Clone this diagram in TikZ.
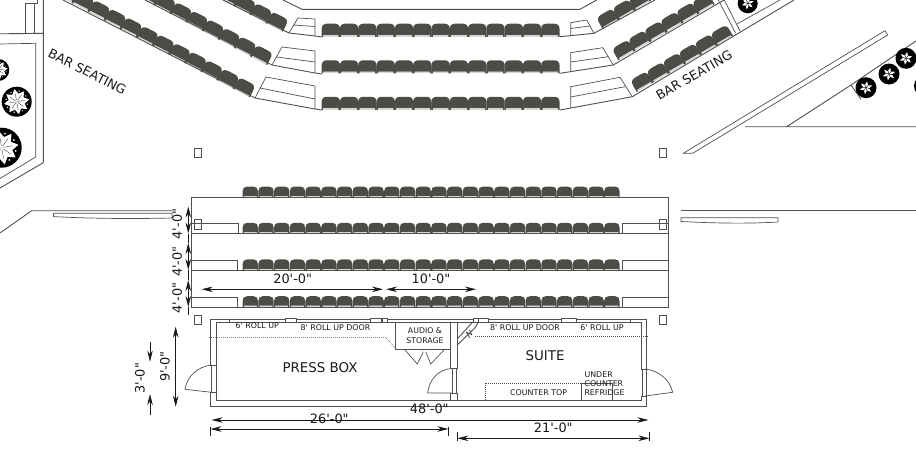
\documentclass[tikz,border=0pt]{standalone}
\usepackage{fontspec}
\setmainfont{DejaVu Sans}
\newfontfamily\plainf{DejaVu Sans}
\usetikzlibrary{arrows.meta}
\definecolor{seatc}{HTML}{4D4B46}
\definecolor{wall}{HTML}{505050}
\definecolor{inkc}{HTML}{1A1A1A}
\newcommand{\fsz}[1]{\plainf\fontsize{#1}{#1}\selectfont}
\tikzset{
  x=1pt,y=-1pt,
  plan/.style={draw=wall,line width=0.9pt,line join=miter},
  thin plan/.style={draw=wall,line width=0.7pt},
  dots/.style={draw=wall,line width=0.55pt,dash pattern=on 1pt off 1pt},
  lbl/.style={text=inkc,inner sep=0pt,font=\fsz{7.9},align=center},
  dimt/.style={text=inkc,inner sep=0pt,font=\fsz{12.9}},
  dim/.style={draw=inkc,line width=0.7pt},
  dimboth/.style={dim,{Stealth[length=11pt,width=5.5pt]}-{Stealth[length=11pt,width=5.5pt]}},
  dimend/.style={dim,-{Stealth[length=11pt,width=5.5pt]}},
  seat/.pic={
    \fill[seatc] (-7.7,5.3) -- (-7.7,-0.8) .. controls (-7.7,-3.9) and (-6.2,-5.6) .. (-3.2,-5.6)
      -- (3.2,-5.6) .. controls (6.2,-5.6) and (7.7,-3.9) .. (7.7,-0.8) -- (7.7,5.3) -- (6.4,5.3) -- (6.4,3.9) -- (-6.4,3.9) -- (-6.4,5.3) -- cycle;
    \fill[black!16] (-6.4,3.9) rectangle (6.4,5.3);
  },
  tree/.pic={
    \fill[black] (0,0) circle[radius=1pt];
    \foreach \a in {0,45,...,315}{
      \fill[white,rotate=\a+10] (0,0) -- (0.45,0.24) -- (0.85,0) -- (0.45,-0.24) -- cycle;
      \fill[white,rotate=\a+32] (0.72,0) circle[radius=0.05pt];
    }
    \foreach \a in {0,45,...,315}{
      \draw[black,line width=0.25pt,rotate=\a+10] (0.1,0) -- (0.55,0);
    }
  },
  treeb/.pic={
    \fill[black] (0,0) circle[radius=1pt];
    \foreach \a in {20,80,...,320}{
      \fill[white,rotate=\a] (0.05,0) -- (0.3,0.13) -- (0.62,0) -- (0.3,-0.13) -- cycle;
    }
  },
}
\begin{document}
\begin{tikzpicture}
\useasboundingbox (0,0) rectangle (916,450);
\clip (0,0) rectangle (916,450);
\fill[white] (0,0) rectangle (916,450);

% ---------- upper seating: centre rows
\foreach \yy in {30.4,67,103.5}{
  \foreach \k in {0,...,12}{
    \pic[scale=1.2] at ({330.8+\k*18.3},\yy) {seat};
  }
}
% left angled rows
\foreach \k in {0,...,11}{\pic[rotate=-27,scale=1.22] at ({244.3-\k*16.1},{87.3-\k*8.57}) {seat};}
\foreach \k in {0,...,7}{\pic[rotate=-27,scale=1.22] at ({261.7-\k*16.1},{55-\k*8.57}) {seat};}
\foreach \k in {0,...,3}{\pic[rotate=-27,scale=1.22] at ({277.3-\k*16.1},{21.7-\k*8.57}) {seat};}
% right angled rows
\foreach \k in {0,...,5}{\pic[rotate=30,scale=1.22] at ({641.7+\k*16},{81.7-\k*9.33}) {seat};}
\foreach \k in {0,...,5}{\pic[rotate=30,scale=1.22] at ({623.3+\k*16},{50-\k*9.33}) {seat};}
\foreach \k in {0,...,2}{\pic[rotate=30,scale=1.22] at ({607.7+\k*16},{18.8-\k*9.33}) {seat};}

% rails and stairs, upper block
\draw[plan] (283,0) -- (302,9.3) -- (580,9.3) -- (596.7,0);
\draw[plan] (223,0) -- (289,33) -- (315,36) -- (322,37);
\draw[plan] (145,0) -- (272,65) -- (315,73) -- (322,74);
\draw[plan] (63,0) -- (255,98) -- (315,109) -- (322,110);
\draw[plan] (560,36.7) -- (594,33.3) -- (655,0);
\draw[plan] (560,73.3) -- (613.3,65) -- (724,0);
\draw[plan] (560,110) -- (632.3,96.7) -- (794,0);
\draw[thin plan] (289,33) -- (298,18) -- (315,19) -- (315,36) (293,25) -- (315,26.5);
\draw[thin plan] (272,65) -- (282,47) -- (315,51) -- (315,73) (276.5,57) -- (315,62);
\draw[thin plan] (255,98) -- (266,77) -- (315,86) -- (315,109) (260,88) -- (315,99);
\draw[thin plan] (570.7,35.2) -- (570.7,22.7) -- (586.7,20) -- (594,33.3) (570.7,28.5) -- (590,26);
\draw[thin plan] (570.7,71.5) -- (570.7,52.7) -- (602.7,47.7) -- (613.3,65) (570.7,62) -- (608.3,56.7);
\draw[thin plan] (570.7,108) -- (570.7,86.7) -- (620,77.3) -- (632.3,96.7) (570.7,97) -- (625,86.7);

% top-left planter
\draw[plan] (0,33.8) -- (43.3,33.3) -- (43.3,0) (43.3,162.7) -- (43.3,33.3) (43.3,162.7) -- (0,188);
\draw[thin plan] (0,44) -- (35.7,43.3) -- (35.7,157) -- (0,178.5);
\draw[thin plan] (25,33.5) -- (25,3.3) -- (37.7,3.3) -- (37.7,0) (34,33.5) -- (34,3.3);
\pic[scale=11] at (-1.7,70) {tree};
\pic[scale=15] at (16.7,101.7) {tree};
\pic[scale=20] at (1.7,147.7) {tree};

% top-right planter
\draw[thin plan] (718.3,0) -- (735.7,33.3) (724.3,0) -- (740,31);
\draw[thin plan] (737,24) -- (780,0);
\pic[scale=10] at (747.7,3.3) {treeb};
\draw[thin plan] (683.3,153.3) -- (885,30.7) -- (887.7,35) -- (692.7,153.3) -- cycle;
\draw[plan] (745,126.7) -- (916,126.7) (786.7,126.7) -- (851,85) (861,99.3) -- (851,85);
\draw[plan] (851,85) -- (916,41);
\pic[scale=10.5] at (866,87.7) {treeb};
\pic[scale=10.5] at (889,74) {treeb};
\pic[scale=10.5] at (906,58.3) {treeb};
\pic[scale=11] at (925,86) {treeb};

% labels, bar seating
\node[text=inkc,inner sep=0pt,rotate=-27,font=\fsz{12.8}] (barL) at (87.3,71.7) {BAR SEATING};
\node[text=inkc,inner sep=0pt,rotate=30,font=\fsz{12.8}] (barR) at (694,75) {BAR SEATING};

% columns
\foreach \cx/\cy in {198/152.8,662.8/152.8,198/224.2,662.8/224.2,198/320,662.8/320}{
  \draw[thin plan] (\cx-3.7,\cy-4.7) rectangle (\cx+3.7,\cy+4.7);
}

% side walls
\draw[plan] (0,233) -- (31.7,210.7) -- (172,210.7);
\draw[thin plan] (53.5,213.3) -- (172,213.3) -- (172,218) .. controls (130,219) and (90,218.5) .. (53.5,216.6) -- cycle;
\draw[plan] (681,210.7) -- (916,210.7);
\draw[thin plan] (681,217.8) -- (778,217.8) -- (778,222) .. controls (745,224) and (710,223) .. (681,221.5) -- cycle;

% ---------- lower seating block
\foreach \yy in {192.2,228.4,265,301.8}{
  \foreach \k in {0,...,23}{
    \pic at ({250.3+\k*15.72},\yy) {seat};
  }
}
\draw[plan] (191.7,197.3) rectangle (668,307);
\draw[plan] (191.7,233.5) -- (668,233.5) (191.7,270) -- (668,270);
\draw[plan] (191.7,223) -- (238,223) -- (238,233.5);
\draw[plan] (191.7,260) -- (237.5,260) -- (237.5,270);
\draw[plan] (191.7,297) -- (237.5,297) -- (237.5,307);
\draw[plan] (668,223) -- (622,223) -- (622,233.5);
\draw[plan] (668,260) -- (622,260) -- (622,270);
\draw[plan] (668,297) -- (622.5,297) -- (622.5,307);

% ---------- press box and suite
\draw[plan] (229.3,319.7) -- (630.7,319.7) (229.3,322.3) -- (630.7,322.3);
\draw[plan] (210.7,365) -- (210.7,319) -- (229.3,319) -- (229.3,322.7) -- (216.7,322.7) -- (216.7,365) -- cycle;
\draw[plan] (210.7,392.3) -- (210.7,406.7) -- (646.7,406.7) -- (646.7,396) -- (641.7,396) -- (641.7,400) -- (216.7,400) -- (216.7,392.3) -- cycle;
\draw[plan] (646.7,369) -- (646.7,319) -- (630.7,319) -- (630.7,322.7) -- (641.7,322.7) -- (641.7,369) -- cycle;
\draw[thin plan] (211.7,365) -- (211.7,392.3) (216,365) -- (216,392.3);
\draw[thin plan] (642.3,369) -- (642.3,396) (646,369) -- (646,396);
% door windows in top wall
\foreach \a/\b in {285/296.7,370/381.7,382.3/387.3,473/478,478/488,561.7/576}{
  \draw[thin plan,fill=white] (\a,318.7) rectangle (\b,322.7);
}
% left door
\draw[thin plan] (211.7,365) .. controls (198,366.5) and (187,376) .. (185,389.3) -- (211.7,392.3);
% right door
\draw[thin plan] (645,369) .. controls (659,370.5) and (670,380) .. (672.7,392.3) -- (645,396);
% centre wall and door
\draw[plan] (450.7,323) -- (450.7,368.5) -- (457.3,368.5) -- (457.3,323);
\draw[plan] (450.7,400) -- (450.7,393) -- (457.3,393) -- (457.3,400);
\draw[thin plan] (452.3,368.5) -- (452.3,393) (456,368.5) -- (456,393);
\draw[thin plan] (451.5,368.5) .. controls (438,369.5) and (429,380) .. (427.7,393) -- (451.5,393);
% storage
\draw[plan] (395.7,323) -- (395.7,349.5) -- (450.7,349.5);
\draw[thin plan] (405,350) -- (417.3,364) -- (423.3,351.7) (425.7,351.7) -- (430.7,364) -- (444,350);
% diagonal brace
\draw[plan] (457.3,339) -- (472.7,322) (457.3,345) -- (475,327.7) -- (478,322.7);
\draw[thin plan] (466,332) -- (470,338) (469.5,330) -- (472,335) (466,332) -- (472,335);
% dotted lines
\draw[dots] (209,337.3) -- (385.7,337.3) -- (396.7,349.7) -- (403,349.7);
\draw[dots] (475,336.7) -- (649,336.7);
\draw[dots] (485,400) -- (485,383.3) -- (581.7,383.3);
\draw[thin plan] (581.7,400) -- (581.7,383.3) -- (612.8,383.3) -- (612.8,400);

% room labels
\node[lbl] (rollA) at (257.3,326) {6' ROLL UP};
\node[lbl] (rollB) at (335.5,327.7) {8' ROLL UP DOOR};
\node[lbl] (rollC) at (525,327.7) {8' ROLL UP DOOR};
\node[lbl] (rollD) at (602,327.7) {6' ROLL UP};
\node[lbl,font=\fsz{7.8}] (audio) at (425,336) {AUDIO \&\\[2pt]STORAGE};
\node[text=inkc,inner sep=0pt,font=\fsz{13.4}] (press) at (320,367.7) {PRESS BOX};
\node[text=inkc,inner sep=0pt,font=\fsz{13.4}] (suite) at (545,356) {SUITE};
\node[lbl] (counter) at (538.7,392.3) {COUNTER TOP};
\node[lbl,align=left,anchor=north west,font=\fsz{7.9}] (under) at (584.3,371.5) {UNDER\\[1.1pt]COUNTER\\[1.1pt]REFRIDGE};

% dimensions
\coordinate (a1) at (188.3,206.5); \coordinate (a2) at (188.3,233.5);
\coordinate (b1) at (188.3,243); \coordinate (b2) at (188.3,270);
\coordinate (c1) at (188.3,280); \coordinate (c2) at (188.3,307);
\draw[dimboth] (a1) -- (a2);
\draw[dimboth] (b1) -- (b2);
\draw[dimboth] (c1) -- (c2);
\draw[dim] (a2) -- (b1) (b2) -- (c1) (c2) -- (188.3,315);
\node[dimt,rotate=90] (d4a) at (177.3,224) {4'-0"};
\node[dimt,rotate=90] (d4b) at (177.3,261.7) {4'-0"};
\node[dimt,rotate=90] (d4c) at (177.3,298) {4'-0"};
\coordinate (n1) at (175.7,326.7); \coordinate (n2) at (175.7,406.7);
\draw[dimboth] (n1) -- (n2);
\node[dimt,rotate=90] (d9) at (165,366.7) {9'-0"};
\coordinate (t1) at (150,342.3); \coordinate (t2) at (150,361.7);
\coordinate (t3) at (150,415); \coordinate (t4) at (150,394);
\draw[dimend] (t1) -- (t2);
\draw[dimend] (t3) -- (t4);
\node[dimt,rotate=90] (d3) at (140,378.3) {3'-0"};
\coordinate (h1) at (201.7,289.3); \coordinate (h2) at (383,289.3);
\coordinate (h3) at (386,289.3); \coordinate (h4) at (476,289.3);
\draw[dimboth] (h1) -- (h2);
\draw[dimboth] (h3) -- (h4);
\node[dimt] (d20) at (292.7,278.7) {20'-0"};
\node[dimt] (d10) at (431,278.7) {10'-0"};
\coordinate (w1) at (211.7,420); \coordinate (w2) at (648.3,420);
\draw[dimboth] (w1) -- (w2);
\node[dimt] (d48) at (429.3,409) {48'-0"};
\coordinate (x1) at (210.5,429); \coordinate (x2) at (448.3,429);
\draw[dimboth] (x1) -- (x2);
\draw[dim] (210,427) -- (210,436) (448.3,427) -- (448.3,436);
\node[dimt] (d26) at (329.3,418.3) {26'-0"};
\coordinate (y1) at (457.3,438.3); \coordinate (y2) at (649.3,438.3);
\draw[dimboth] (y1) -- (y2);
\draw[dim] (457.3,432) -- (457.3,441) (649.3,432) -- (649.3,441);
\node[dimt] (d21) at (553.3,427.3) {21'-0"};
\end{tikzpicture}
\end{document}
